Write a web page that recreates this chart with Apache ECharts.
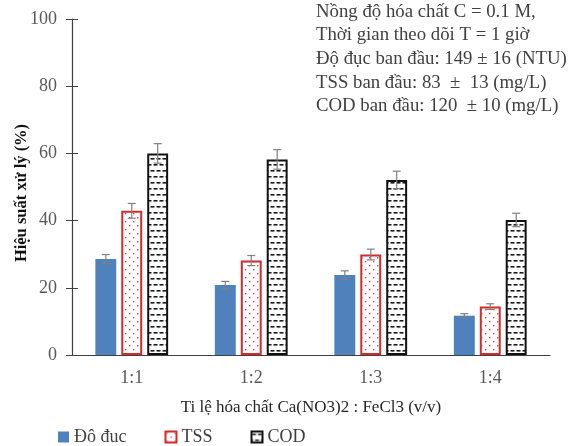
<!DOCTYPE html>
<html>
<head>
<meta charset="utf-8">
<script src="https://cdn.jsdelivr.net/npm/echarts@6/dist/echarts.min.js"></script>
<style>html,body{margin:0;padding:0;background:#fff;}#c{width:575px;height:446px;}</style>
</head>
<body>
<div id="c"></div>
<script>
const categories = ['1:1', '1:2', '1:3', '1:4'];
const seriesNames = ['Đô đuc', 'TSS', 'COD'];
const turbidity = [28.6, 20.8, 23.8, 11.7];
const turbidityErr = [1.3, 1.1, 1.25, 0.6];
const tss = [42.9, 28.1, 29.9, 14.4];
const tssErr = [2.2, 1.5, 1.6, 0.85];
const cod = [60.0, 58.2, 52.1, 40.2];
const codErr = [2.9, 2.9, 2.6, 2.0];
const yTicks = [0, 20, 40, 60, 80, 100];
const noteLines = [
  'Nồng độ hóa chất C = 0.1 M,',
  'Thời gian theo dõi T = 1 giờ',
  'Độ đục ban đầu: 149 ± 16 (NTU)',
  'TSS ban đầu: 83  ±  13 (mg/L)',
  'COD ban đầu: 120  ± 10 (mg/L)'
];

function makeDots() {
  const c = document.createElement('canvas'); c.width = 8; c.height = 8;
  const g = c.getContext('2d');
  g.fillStyle = '#fff'; g.fillRect(0, 0, 8, 8);
  g.fillStyle = '#e04848';
  g.fillRect(1, 1, 1.4, 1.4); g.fillRect(5, 5, 1.4, 1.4);
  return c;
}
function makeDashes() {
  const c = document.createElement('canvas'); c.width = 6; c.height = 12;
  const g = c.getContext('2d');
  g.fillStyle = '#fff'; g.fillRect(0, 0, 6, 12);
  g.fillStyle = '#1a1a1a';
  g.fillRect(0.5, 2, 4, 1.6);
  g.fillRect(3.5, 8, 2.5, 1.6); g.fillRect(0, 8, 1.5, 1.6);
  return c;
}

const FONT = '"Liberation Serif", serif';
const BAR_FRAC = 0.175, GAP_FRAC = 0.24;

function errSeries(vals, errs, k) {
  return {
    type: 'custom', z: 10, silent: true,
    data: vals.map((v, i) => [i, v - errs[i], v + errs[i]]),
    renderItem: function (params, api) {
      const band = api.size([1, 0])[0];
      const bw = band * BAR_FRAC;
      const off = k * (bw * (1 + GAP_FRAC));
      const lo = api.coord([api.value(0), api.value(1)]);
      const hi = api.coord([api.value(0), api.value(2)]);
      const x = lo[0] + off, cap = 4;
      const st = { stroke: '#808080', lineWidth: 1.2 };
      return { type: 'group', children: [
        { type: 'line', shape: { x1: x, y1: lo[1], x2: x, y2: hi[1] }, style: st },
        { type: 'line', shape: { x1: x - cap, y1: lo[1], x2: x + cap, y2: lo[1] }, style: st },
        { type: 'line', shape: { x1: x - cap, y1: hi[1], x2: x + cap, y2: hi[1] }, style: st }
      ]};
    }
  };
}

const chart = echarts.init(document.getElementById('c'), null, { renderer: 'canvas' });
const axisColor = '#404040';
chart.setOption({
  animation: false,
  textStyle: { fontFamily: FONT },
  grid: { left: 72, right: 25, top: 19, bottom: 91, containLabel: false, outerBoundsMode: 'none' },
  legend: {
    left: 53, top: 423, itemWidth: 11, itemHeight: 11, itemGap: 38, icon: 'rect',
    textStyle: { fontFamily: FONT, fontSize: 18, color: '#404040' },
    data: seriesNames
  },
  xAxis: [{
    type: 'category', data: categories,
    axisLine: { lineStyle: { color: axisColor, width: 1.2 } },
    axisTick: { length: 5, lineStyle: { color: axisColor } },
    axisLabel: { fontFamily: FONT, fontSize: 18, color: '#595959', margin: 14 },
    name: 'Ti lệ hóa chất Ca(NO3)2 : FeCl3 (v/v)', nameLocation: 'middle', nameGap: 44,
    nameTextStyle: { fontFamily: FONT, fontSize: 17, color: '#262626' }
  }, {
    type: 'category', data: categories, position: 'bottom',
    axisLine: { show: false }, axisLabel: { show: false },
    axisTick: { inside: true, length: 6, lineStyle: { color: axisColor } }
  }],
  yAxis: [{
    type: 'value', min: yTicks[0], max: yTicks[yTicks.length - 1], interval: 20,
    splitLine: { show: false },
    axisLine: { show: true, lineStyle: { color: axisColor, width: 1.2 } },
    axisTick: { show: true, length: 6, lineStyle: { color: axisColor } },
    axisLabel: { fontFamily: FONT, fontSize: 18, color: '#595959', margin: 15 },
    name: 'Hiệu suất xử lý (%)', nameLocation: 'middle', nameGap: 42, nameRotate: 90, nameMoveOverlap: false,
    nameTextStyle: { fontFamily: FONT, fontSize: 16.5, fontWeight: 'bold', color: '#111', padding: [0, 12, 0, 0] }
  }, {
    type: 'value', min: yTicks[0], max: yTicks[yTicks.length - 1], interval: 20, position: 'left',
    splitLine: { show: false }, axisLine: { show: false }, axisLabel: { show: false },
    axisTick: { show: true, inside: true, length: 6, lineStyle: { color: axisColor } }
  }],
  graphic: [{
    type: 'text', left: 316, top: 0,
    style: { text: noteLines.join('\n'), fontFamily: FONT, fontSize: 18.8, lineHeight: 23.6, fill: '#404040' }
  }],
  series: [
    { name: seriesNames[0], type: 'bar', data: turbidity, barWidth: (BAR_FRAC * 100) + '%', barGap: (GAP_FRAC * 100) + '%',
      itemStyle: { color: '#4f81bd' } },
    { name: seriesNames[1], type: 'bar', data: tss, barWidth: (BAR_FRAC * 100) + '%', barGap: (GAP_FRAC * 100) + '%',
      itemStyle: { color: { image: makeDots(), repeat: 'repeat' }, borderColor: '#d42a2a', borderWidth: 2 } },
    { name: seriesNames[2], type: 'bar', data: cod, barWidth: (BAR_FRAC * 100) + '%', barGap: (GAP_FRAC * 100) + '%',
      itemStyle: { color: { image: makeDashes(), repeat: 'repeat' }, borderColor: '#111', borderWidth: 2 } },
    errSeries(turbidity, turbidityErr, -1),
    errSeries(tss, tssErr, 0),
    errSeries(cod, codErr, 1)
  ]
});
</script>
</body>
</html>
